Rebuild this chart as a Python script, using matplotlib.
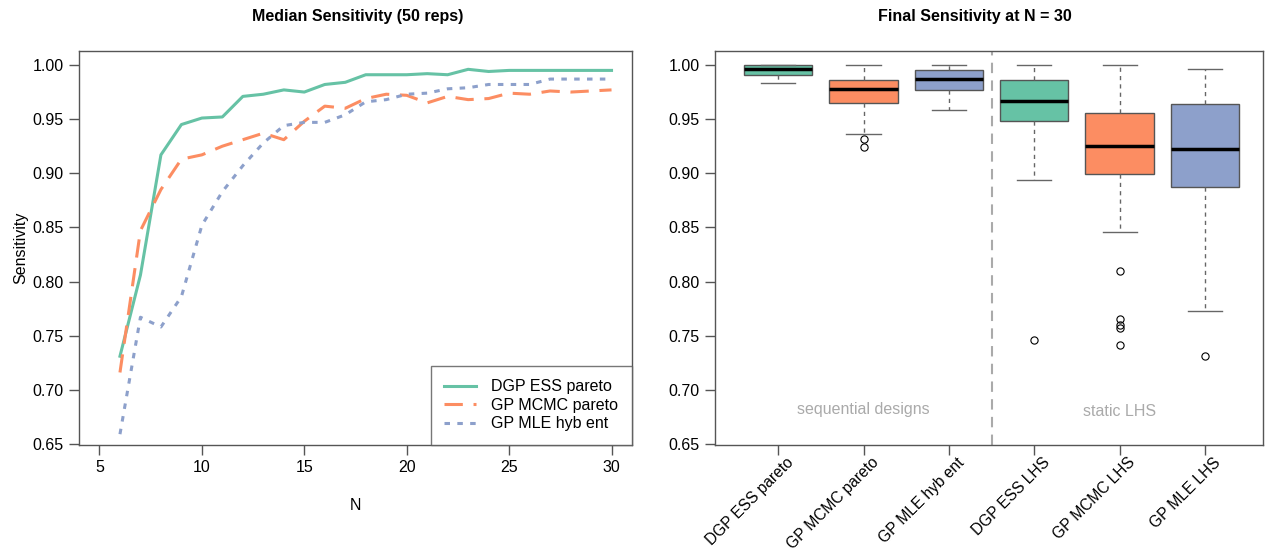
import numpy as np
import matplotlib
matplotlib.use("Agg")
import matplotlib.pyplot as plt
import matplotlib.transforms as mtransforms
from matplotlib.ticker import FormatStrFormatter

plt.rcParams['font.family'] = ['Liberation Sans', 'DejaVu Sans']

# ---- данные: медианная чувствительность по N ----
N = list(range(6, 31))
dgp_ess_pareto = [0.731, 0.806, 0.917, 0.945, 0.951, 0.952, 0.971, 0.973, 0.977, 0.975,
                  0.982, 0.984, 0.991, 0.991, 0.991, 0.992, 0.991, 0.996, 0.994, 0.995,
                  0.995, 0.995, 0.995, 0.995, 0.995]
gp_mcmc_pareto = [0.716, 0.847, 0.885, 0.913, 0.917, 0.925, 0.931, 0.937, 0.931, 0.948,
                  0.962, 0.960, 0.969, 0.973, 0.972, 0.965, 0.971, 0.968, 0.969, 0.974,
                  0.973, 0.976, 0.975, 0.976, 0.977]
gp_mle_hybent = [0.659, 0.767, 0.758, 0.786, 0.852, 0.883, 0.907, 0.928, 0.944, 0.947,
                 0.947, 0.954, 0.966, 0.968, 0.973, 0.974, 0.978, 0.979, 0.982, 0.982,
                 0.982, 0.987, 0.987, 0.987, 0.987]
line_labels = ["DGP ESS pareto", "GP MCMC pareto", "GP MLE hyb ent"]

# ---- данные: итоговая чувствительность при N = 30 (сводка боксплотов) ----
box_labels = ["DGP ESS pareto", "GP MCMC pareto", "GP MLE hyb ent",
              "DGP ESS LHS", "GP MCMC LHS", "GP MLE LHS"]
whislo = [0.983, 0.936, 0.958, 0.894, 0.846, 0.773]
q1 = [0.991, 0.965, 0.977, 0.948, 0.899, 0.887]
med = [0.996, 0.9775, 0.987, 0.967, 0.925, 0.922]
q3 = [1.000, 0.986, 0.995, 0.986, 0.956, 0.964]
whishi = [1.000, 1.000, 1.000, 1.000, 1.000, 0.996]
fliers = [[], [0.932, 0.924], [], [0.746],
          [0.810, 0.765, 0.760, 0.757, 0.741], [0.731]]

cols = ['#66C2A5', '#FC8D62', '#8DA0CB']
frame_col = '#555555'

W, H = 1265, 553
fig = plt.figure(figsize=(W / 100, H / 100), dpi=100)

def px_axes(x0, x1, ytop, ybot):
    return fig.add_axes([x0 / W, 1 - ybot / H, (x1 - x0) / W, (ybot - ytop) / H])

def style(ax):
    for s in ax.spines.values():
        s.set_color(frame_col)
        s.set_linewidth(1)
    ax.tick_params(length=7, width=1, color=frame_col, labelsize=11.5, pad=4)
    ax.yaxis.set_major_formatter(FormatStrFormatter('%.2f'))
    ax.set_ylim(0.649, 1.0132)
    ax.set_yticks([0.65, 0.70, 0.75, 0.80, 0.85, 0.90, 0.95, 1.00])

# ---- левая панель ----
ax1 = px_axes(79, 632, 50.7, 445)
ax1.plot(N, dgp_ess_pareto, color=cols[0], lw=2.2, label=line_labels[0])
ax1.plot(N, gp_mcmc_pareto, color=cols[1], lw=2.2, dashes=(6, 3.5), label=line_labels[1])
ax1.plot(N, gp_mle_hybent, color=cols[2], lw=2.2, dashes=(1.8, 2.4), label=line_labels[2])
ax1.set_xlim(4, 31)
ax1.set_xticks([5, 10, 15, 20, 25, 30])
style(ax1)
ax1.set_xlabel("N", fontsize=11.5, labelpad=16)
ax1.set_ylabel("Sensitivity", fontsize=11.5, labelpad=3)
leg = ax1.legend(loc='lower right', fontsize=11.5, frameon=True, fancybox=False,
                 borderaxespad=0, handlelength=2.0, handletextpad=0.95,
                 labelspacing=0.22, borderpad=0.85)
leg.get_frame().set_edgecolor(frame_col)
leg.get_frame().set_linewidth(1)
fig.text(358 / W, 1 - 17 / H, "Median Sensitivity (50 reps)", ha='center', va='center',
         fontsize=11.5, fontweight='bold')

# ---- правая панель ----
ax2 = px_axes(715, 1263, 50.7, 445)
stats = []
for i in range(len(box_labels)):
    stats.append(dict(whislo=whislo[i], q1=q1[i], med=med[i], q3=q3[i],
                      whishi=whishi[i], fliers=fliers[i], label=box_labels[i]))
pos = np.arange(1, len(box_labels) + 1)
bp = ax2.bxp(stats, positions=pos, widths=0.8, patch_artist=True,
             boxprops=dict(edgecolor='#555555', linewidth=1),
             medianprops=dict(color='black', linewidth=2.5),
             whiskerprops=dict(color='#666666', linewidth=1, linestyle=(0, (3, 3))),
             capprops=dict(color='#666666', linewidth=1),
             capwidths=0.4,
             flierprops=dict(marker='o', markerfacecolor='none', markeredgecolor='black',
                             markersize=5.2, markeredgewidth=0.8))
for i, b in enumerate(bp['boxes']):
    b.set_facecolor(cols[i % 3])
ax2.axvline(3.5, color='#aaaaaa', lw=1.5, dashes=(5, 3.5))
ax2.text(2, 0.682, "sequential designs", color='#aaaaaa', fontsize=11.5,
         ha='center', va='center')
ax2.text(5, 0.680, "static LHS", color='#aaaaaa', fontsize=11.5,
         ha='center', va='center')
ax2.set_xlim(0.26, 6.68)
style(ax2)
ax2.set_xticks(pos)
ax2.set_xticklabels(box_labels, rotation=45, ha='right', va='center',
                    rotation_mode='anchor', fontsize=11.2)
shift = mtransforms.ScaledTranslation(13 / 100, 0 / 100, fig.dpi_scale_trans)
for lab in ax2.get_xticklabels():
    lab.set_transform(lab.get_transform() + shift)
fig.text(975 / W, 1 - 17 / H, "Final Sensitivity at N = 30", ha='center', va='center',
         fontsize=11.5, fontweight='bold')

fig.savefig("out.png", dpi=100)
